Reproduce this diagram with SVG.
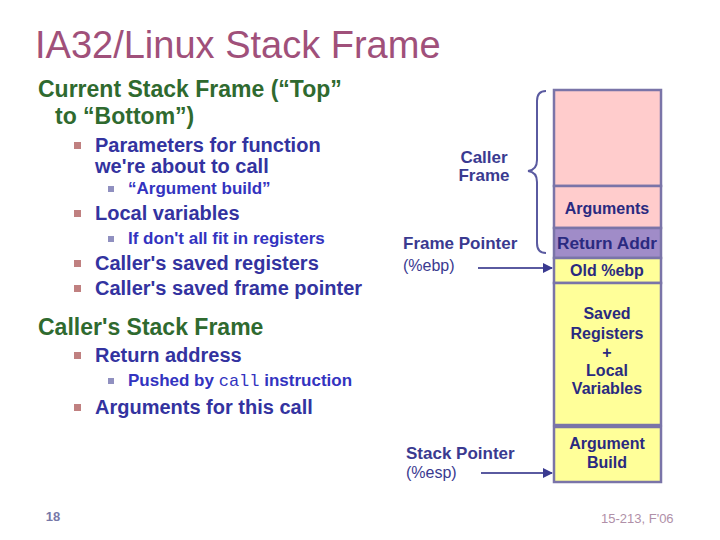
<svg xmlns="http://www.w3.org/2000/svg" width="720" height="540" viewBox="0 0 720 540">
<style>
text{font-family:"Liberation Sans",Arial,sans-serif}
.title{font-size:38px;fill:#A0507A}
.h1{font-size:23px;font-weight:bold;fill:#2F6A2F}
.b1{font-size:20px;font-weight:bold;fill:#3333A0}
.b2{font-size:17px;font-weight:bold;fill:#3333C0}
.mono{font-family:"Liberation Mono","Courier New",monospace;font-weight:normal}
.bul1{fill:#C08080}
.bul2{fill:#9090C0}
.lab{font-size:17px;font-weight:bold;fill:#3A3A90}
.reg{font-size:16px;fill:#3A3A90}
.cell{font-size:16px;font-weight:bold;fill:#2A2A80;text-anchor:middle}
.box{stroke:#7A74A8;stroke-width:2.5}
.conn{stroke:#5A5AA0;stroke-width:2;fill:none}
</style>
<defs>
<marker id="ah" viewBox="0 0 10 10" refX="9" refY="5" markerWidth="5" markerHeight="5" orient="auto"><path d="M0,0L10,5L0,10z" fill="#3A3A90"/></marker>
</defs>
<rect width="720" height="540" fill="#fff"/>
<g id="title"><text class="title" x="35" y="58">IA32/Linux Stack Frame</text></g>
<g id="text-list">
<text class="h1" x="38" y="97">Current Stack Frame (“Top”</text>
<text class="h1" x="55" y="124">to “Bottom”)</text>
<rect class="bul1" x="74" y="142" width="7" height="7"/>
<text class="b1" x="95" y="152">Parameters for function</text>
<text class="b1" x="95" y="173">we're about to call</text>
<rect class="bul2" x="108" y="186" width="6" height="6"/>
<text class="b2" x="128" y="194">“Argument build”</text>
<rect class="bul1" x="74" y="210" width="7" height="7"/>
<text class="b1" x="95" y="220">Local variables</text>
<rect class="bul2" x="108" y="236" width="6" height="6"/>
<text class="b2" x="128" y="244">If don't all fit in registers</text>
<rect class="bul1" x="74" y="260" width="7" height="7"/>
<text class="b1" x="95" y="270">Caller's saved registers</text>
<rect class="bul1" x="74" y="285" width="7" height="7"/>
<text class="b1" x="95" y="295">Caller's saved frame pointer</text>
<text class="h1" x="38" y="335">Caller's Stack Frame</text>
<rect class="bul1" x="74" y="352" width="7" height="7"/>
<text class="b1" x="95" y="362">Return address</text>
<rect class="bul2" x="108" y="378" width="6" height="6"/>
<text class="b2" x="128" y="386">Pushed by <tspan class="mono">call</tspan> instruction</text>
<rect class="bul1" x="74" y="404" width="7" height="7"/>
<text class="b1" x="95" y="414">Arguments for this call</text>
</g>
<g id="caller-frame">
<rect class="box" x="554" y="90" width="107" height="96" fill="#FFCCCC"/>
</g>
<g id="arguments">
<rect class="box" x="554" y="186" width="107" height="42" fill="#FFCCCC"/>
<text class="cell" x="607" y="214">Arguments</text>
</g>
<g id="return-addr">
<rect class="box" x="554" y="228" width="107" height="30" fill="#A08CC8"/>
<text class="cell" x="607" y="249" textLength="100" lengthAdjust="spacingAndGlyphs">Return Addr</text>
</g>
<g id="old-ebp">
<rect class="box" x="554" y="258" width="107" height="25" fill="#FFFF99"/>
<text class="cell" x="607" y="276">Old %ebp</text>
</g>
<g id="saved-regs">
<rect class="box" x="554" y="283" width="107" height="142" fill="#FFFF99"/>
<text class="cell" x="607" y="319">Saved</text>
<text class="cell" x="607" y="339">Registers</text>
<text class="cell" x="607" y="358">+</text>
<text class="cell" x="607" y="376">Local</text>
<text class="cell" x="607" y="394">Variables</text>
</g>
<g id="arg-build">
<rect class="box" x="554" y="427" width="107" height="55" fill="#FFFF99"/>
<text class="cell" x="607" y="449">Argument</text>
<text class="cell" x="607" y="468">Build</text>
</g>
<g id="caller-frame-label">
<text class="lab" x="484" y="163" text-anchor="middle">Caller</text>
<text class="lab" x="484" y="181" text-anchor="middle">Frame</text>
</g>
<g id="frame-pointer">
<text class="lab" x="403" y="249">Frame Pointer</text>
<text class="reg" x="403" y="271">(%ebp)</text>
</g>
<g id="stack-pointer">
<text class="lab" x="406" y="459">Stack Pointer</text>
<text class="reg" x="406" y="478">(%esp)</text>
</g>
<g id="connectors">
<path class="conn" d="M546,91 Q537,91 537,101 L537,160 Q537,170 528,171 Q537,172 537,182 L537,243 Q537,253 546,253"/>
<line class="conn" x1="478" y1="268" x2="552" y2="268" marker-end="url(#ah)"/>
<line class="conn" x1="481" y1="473" x2="552" y2="473" marker-end="url(#ah)"/>
</g>
<g id="footer">
<text x="53" y="521" font-size="13" font-weight="bold" fill="#7878A8" text-anchor="middle">18</text>
<text x="601" y="523" font-size="13" fill="#B090A8">15-213, F'06</text>
</g>
</svg>
